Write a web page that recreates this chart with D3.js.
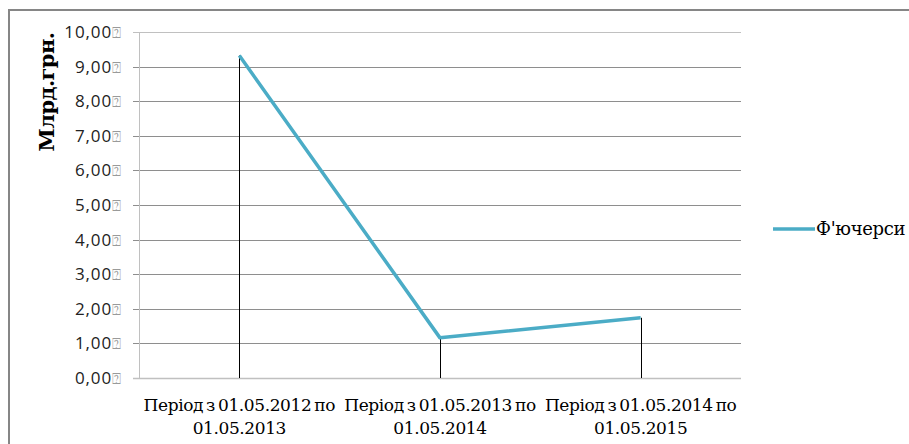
<!DOCTYPE html>
<html>
<head>
<meta charset="utf-8">
<script src="https://cdn.jsdelivr.net/npm/d3@7"></script>
<style>
  body { margin: 0; background: #fff; }
  .serif { font-family: "DejaVu Serif", "Liberation Serif", serif; }
  .sans { font-family: "Open Sans", sans-serif; }
</style>
</head>
<body>
<div id="chart-area"></div>
<script>
// chart data
var categories = ["Період з 01.05.2012 по|01.05.2013",
                  "Період з 01.05.2013 по|01.05.2014",
                  "Період з 01.05.2014 по|01.05.2015"];
var futures = [9.32, 1.16, 1.74];
var yTicks = [0, 1, 2, 3, 4, 5, 6, 7, 8, 9, 10];
var seriesName = "Ф'ючерси";
var yTitle = "Млрд.грн.";

var width = 909, height = 444;
var plotLeft = 139, plotRight = 741, plotTop = 32, plotBottom = 378;

var svg = d3.select("#chart-area").append("svg")
    .attr("width", width)
    .attr("height", height);

// outer frame (runs off right/bottom edge like the picture)
svg.append("rect")
    .attr("x", 9).attr("y", 10)
    .attr("width", 910).attr("height", 440)
    .attr("fill", "none")
    .attr("stroke", "#868686")
    .attr("stroke-width", 2);

var x = d3.scaleBand()
    .domain(categories)
    .range([plotLeft, plotRight]);

var y = d3.scaleLinear()
    .domain([0, 10])
    .range([plotBottom, plotTop]);

// gridlines
svg.append("g").selectAll("line")
    .data(yTicks.filter(d => d > 0))
    .enter()
    .append("line")
    .attr("x1", plotLeft - 6)
    .attr("x2", plotRight)
    .attr("y1", d => Math.round(y(d)) + 0.5)
    .attr("y2", d => Math.round(y(d)) + 0.5)
    .attr("stroke", d => d === 10 ? "#c0c0c0" : "#8e8e8e")
    .attr("stroke-width", 1);

// axes lines
svg.append("line")
    .attr("x1", plotLeft + 0.5).attr("x2", plotLeft + 0.5)
    .attr("y1", plotTop).attr("y2", plotBottom)
    .attr("stroke", "#c0c0c0");
svg.append("line")
    .attr("x1", plotLeft - 6).attr("x2", plotRight)
    .attr("y1", plotBottom + 0.5).attr("y2", plotBottom + 0.5)
    .attr("stroke", "#c0c0c0").attr("stroke-width", 1.5);

// y tick labels
var yl = svg.append("g").selectAll("text")
    .data(yTicks)
    .enter()
    .append("text")
    .attr("class", "sans")
    .attr("x", 122)
    .attr("y", d => y(d) + 6)
    .attr("text-anchor", "end")
    .style("font-size", "17px")
    .style("letter-spacing", "0.9px")
    .attr("fill", "#222");
yl.append("tspan")
    .text(d => d3.format(".2f")(d).replace(".", ","));
yl.append("tspan")
    .style("font-family", "DejaVu Sans")
    .style("font-size", "15px")
    .attr("fill", "#9a9a9a")
    .text("⍰");

// y title
svg.append("text")
    .attr("class", "serif")
    .attr("transform", "translate(54,92) rotate(-90)")
    .attr("text-anchor", "middle")
    .style("font-weight", "bold")
    .style("font-size", "21px")
    .style("letter-spacing", "-0.6px")
    .attr("fill", "#000")
    .text(yTitle);

// x labels
var xl = svg.append("g").selectAll("text")
    .data(categories)
    .enter()
    .append("text")
    .attr("class", "serif")
    .attr("text-anchor", "middle")
    .style("font-size", "17px")
    .style("letter-spacing", "-0.4px")
    .style("word-spacing", "-2px")
    .attr("fill", "#000");
xl.append("tspan")
    .attr("x", d => x(d) + x.bandwidth() / 2)
    .attr("y", 411)
    .text(d => d.split("|")[0]);
xl.append("tspan")
    .attr("x", d => x(d) + x.bandwidth() / 2)
    .attr("y", 434)
    .text(d => d.split("|")[1]);

// drop lines
svg.append("g").selectAll("line")
    .data(futures)
    .enter()
    .append("line")
    .attr("x1", (d, i) => Math.round(x(categories[i]) + x.bandwidth() / 2) + 0.5)
    .attr("x2", (d, i) => Math.round(x(categories[i]) + x.bandwidth() / 2) + 0.5)
    .attr("y1", d => y(d))
    .attr("y2", plotBottom)
    .attr("stroke", "#000")
    .attr("stroke-width", 1);

// series line
var line = d3.line()
    .x((d, i) => x(categories[i]) + x.bandwidth() / 2)
    .y(d => y(d));

svg.append("path")
    .datum(futures)
    .attr("d", line)
    .attr("fill", "none")
    .attr("stroke", "#4bacc6")
    .attr("stroke-width", 3.5)
    .attr("stroke-linejoin", "round");

// legend
svg.append("line")
    .attr("x1", 773).attr("x2", 815)
    .attr("y1", 229).attr("y2", 229)
    .attr("stroke", "#4bacc6")
    .attr("stroke-width", 3.5);
svg.append("text")
    .attr("class", "serif")
    .attr("x", 816)
    .attr("y", 235)
    .style("font-size", "18px")
    .style("letter-spacing", "-0.3px")
    .attr("fill", "#000")
    .text(seriesName);
</script>
</body>
</html>
